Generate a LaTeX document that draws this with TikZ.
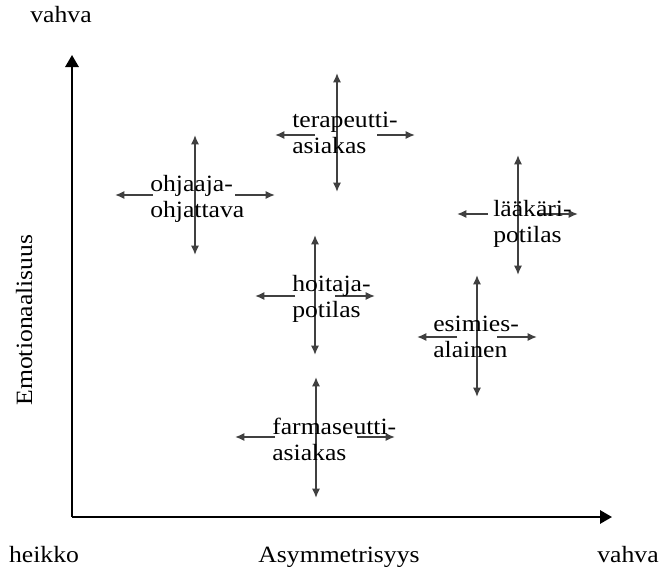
\documentclass[tikz,border=0pt]{standalone}
\usepackage{fontspec}
\setmainfont{Liberation Serif}[FakeStretch=1.1]
\usetikzlibrary{arrows.meta}

\begin{document}
\begin{tikzpicture}[x=0.75pt,y=-0.75pt]
%styles
	\tikzset{
	axis/.style={line width=1.5pt, -{Triangle[length=9pt,width=10pt]}},
	pull/.style={line width=1.2pt, draw=black!75, -{Latex[length=7pt,width=6pt]}},
	both/.style={pull, {Latex[length=7pt,width=6pt]}-{Latex[length=7pt,width=6pt]}},
	pair/.style={anchor=base west, inner sep=0pt, align=left, font=\fontsize{17.5pt}{19.5pt}\selectfont},
	lab/.style={inner sep=0pt, font=\fontsize{17.5pt}{20pt}\selectfont}}
	\useasboundingbox (0,0) rectangle (661,578);

%Achsen
	\coordinate (O) at (72,517);
	\coordinate (xend) at (612,517);
	\coordinate (yend) at (72,55);
	\draw[axis] (O)--(xend);
	\draw[axis] (O)--(yend);
	\node[lab, anchor=base] (ytop) at (61,22) {vahva};
	\node[lab, anchor=base] (xlow) at (44,562) {heikko};
	\node[lab, anchor=base] (xname) at (339,562) {Asymmetrisyys};
	\node[lab, anchor=base] (xtop) at (628,562) {vahva};
	\node[lab, anchor=base, rotate=90] (yname) at (32,320) {Emotionaalisuus};

%Kreuze
	\foreach \n/\vx/\hy/\vt/\vb/\la/\lb/\ra/\rb in {
		ohjaaja/195/195/135/255/153/115/235/275,
		terapeutti/337/135/73/192/315/275/377/415,
		laakari/518/214/155/275/488/457/538/578,
		hoitaja/315/296/235/355/295/255/335/375,
		esimies/477/337/275/397/457/417/497/537,
		farmaseutti/316/437/377/498/275/235/357/395}
	{
		\coordinate (\n-t) at (\vx,\vt);
		\coordinate (\n-b) at (\vx,\vb);
		\coordinate (\n-la) at (\la,\hy);
		\coordinate (\n-lb) at (\lb,\hy);
		\coordinate (\n-ra) at (\ra,\hy);
		\coordinate (\n-rb) at (\rb,\hy);
		\draw[both] (\n-t)--(\n-b);
		\draw[pull] (\n-la)--(\n-lb);
		\draw[pull] (\n-ra)--(\n-rb);
	}

%Beschriftung (base = zweite Zeile)
	\node[pair] (ohjaaja) at (150,217) {ohjaaja-\\ohjattava};
	\node[pair] (terapeutti) at (292,153) {terapeutti-\\asiakas};
	\node[pair] (laakari) at (493,242) {lääkäri-\\potilas};
	\node[pair] (hoitaja) at (292,317) {hoitaja-\\potilas};
	\node[pair] (esimies) at (433,357) {esimies-\\alainen};
	\node[pair] (farmaseutti) at (272,460) {farmaseutti-\\asiakas};

\end{tikzpicture}
\end{document}
